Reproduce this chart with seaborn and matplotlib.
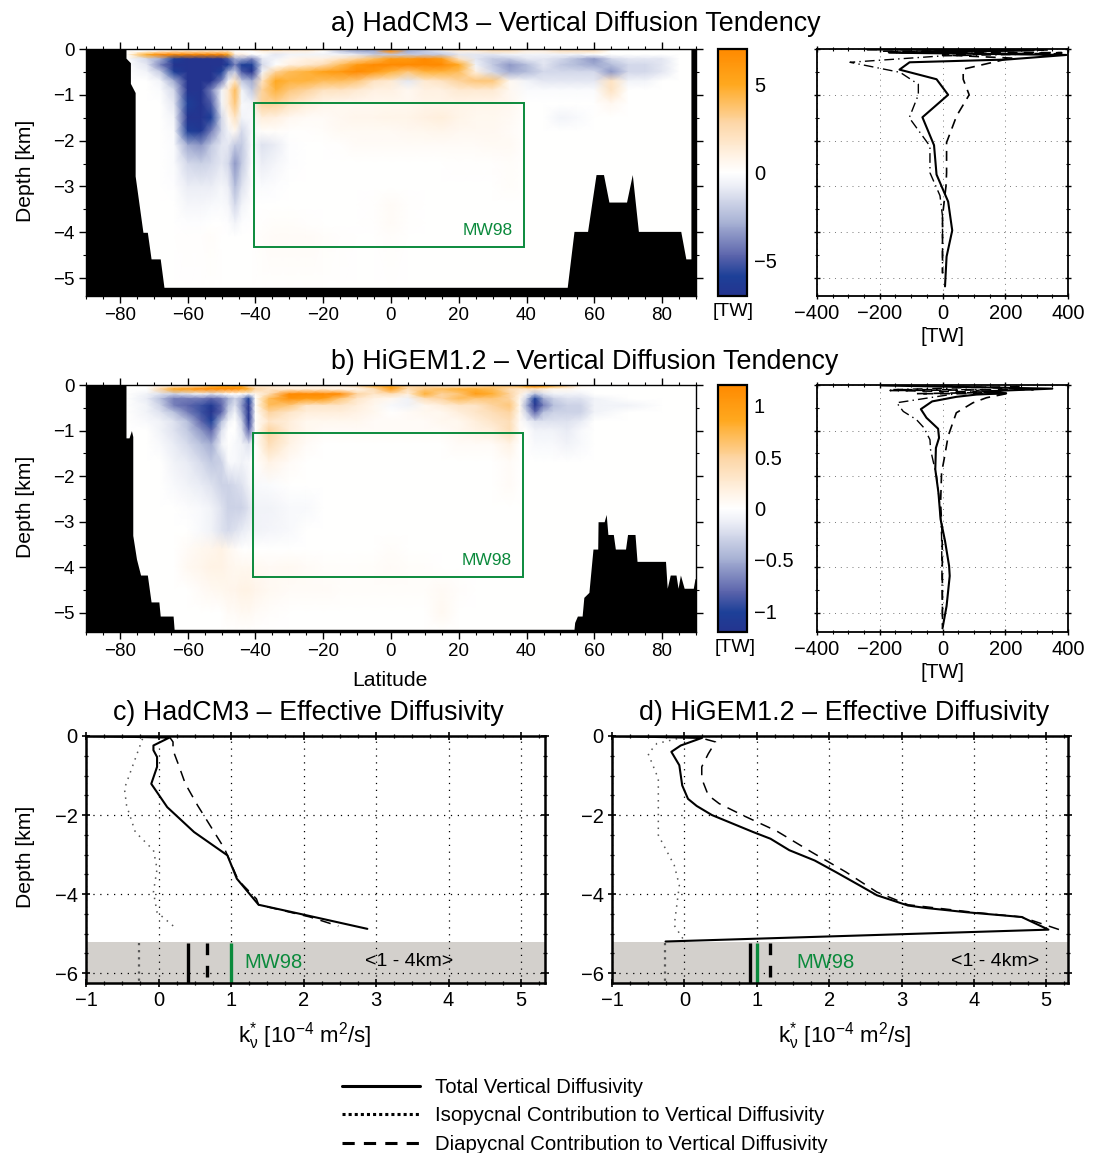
"""Vertical diffusion tendency sections and effective diffusivity profiles"""
import matplotlib
matplotlib.use("Agg")
import matplotlib.pyplot as plt
from matplotlib.colors import LinearSegmentedColormap, Normalize
from matplotlib.lines import Line2D
from matplotlib.patches import Rectangle
from matplotlib.ticker import MultipleLocator
import seaborn as sns
import numpy as np

W, H = 1101, 1153
GREEN = "#0b8a3c"
BAND = "#d3d0cc"

# ---- panel a section, TW
LAT_A = [-78, -72, -68, -64, -60, -56, -53, -50, -48, -46, -44, -41, -38, -34, -30, -25, -20, -15, -10, -5,
         0, 5, 10, 15, 20, 25, 30, 35, 40, 45, 50, 55, 60, 65, 70, 75, 80, 85, 89]
DEPTH_A = [0, .05, .12, .22, .35, .5, .7, .9, 1.2, 1.5, 1.8, 2.1, 2.5, 3.0, 3.4, 3.8, 4.1, 5.4]
FIELD_A = [
    [0, 0, 0, 1, 1, 2, 2, 2, 1, 1, 2, 3, 4, 4, 3, 3, 2, 1, -1, -2, -2, -1, -1, 3, 3, 3, 3, 2, 1, 1, 1, 1, 1, 0, 0, 0, 0, 0, 0],
    [0, 0, 1, 2, 2, 2, 2, 2, 2, 0, 0, 0, 1, 1, 1, 1, 0, -2, -3, -3, 7, -3, -2, -1, 1, 1, 2, 2, 1, 1, 2, 2, 2, 0, 0, 0, 0, 0, 0],
    [0, 5, 7, 7, 7, 7, 7, 7, 5, 1, 1, 0, 0, -1, -.5, -.5, -.5, -.5, -1, -2, -2, -2, -2, -2, -1, -1, -1, -.5, -.5, -.5, -.5, -.5, 0, 0, 0, 0, 0, 0, 0],
    [0, -1.5, -3, -6, -7, -7, -7, -7, -5, -3, -3, -4, -1, -.5, .5, 1, 1, 2, 3, 4, 6, 6, 7, 6, 2, -1, -2, -2, -1, -1, -1.5, -2.5, -3.5, -1.5, -1, -1, -1, 0, 0],
    [0, -1, -4, -7, -7, -7, -7, -7, -6, -4, -6, -6, -1.5, 0, 1, 1.5, 2.5, 4, 6, 7, 7, 7, 7, 7, 5, -.5, -2, -3.5, -2.5, -1, -2, -2.5, -3, -2.5, -1.5, -1.5, -1, 0, 0],
    [0, -.5, -2, -6, -7, -7, -7, -6, -3, -2, -5, -7, -.5, 3, 4, 4.5, 5.5, 6, 7, 6, 4.5, 3.5, 4.5, 4.5, 4, 1, -1.5, -3, -2.5, -1.5, -1.5, -1.5, -1.5, -3.5, -1.5, -1.5, -1, 0, 0],
    [0, 0, -.5, -3, -7, -7, -7, -4, -.5, 2, -2, -3, 2, 5, 4.5, 4.5, 4, 4, 3.5, 2, 1.5, -1, 1.5, 2, 3, 3.5, 3.5, .5, -.5, -1, -1, -1, -1, 2, -.5, -.5, 0, 0, 0],
    [0, 0, -.2, -1.5, -7, -7, -4, -.5, 1.5, 4, -.5, -2, 3, 4.5, 3.5, 3, 2, 2, 1.5, 1, 1, .5, 1, 1, 1.5, 1.5, 1.5, .5, -.2, -.2, -.2, -.2, -.2, 2, 0, 0, 0, 0, 0],
    [0, 0, 0, -1, -6, -7, -5, -.5, 1.5, 3.5, -.3, -.5, 3, 3, 2, 1.2, .7, .5, .5, .5, .6, .6, .8, .8, .8, .7, .7, .5, 0, 0, 0, 0, 0, .5, 0, 0, 0, 0, 0],
    [0, 0, 0, -.5, -7, -7, -6, -1.5, .5, 2, -.5, -.3, 1.2, 1, .5, .3, .3, .5, .7, .7, .8, .8, 1, 1.2, .8, .6, .6, .4, 0, 0, -.5, -.3, 0, 0, 0, 0, 0, 0, 0],
    [0, 0, 0, -.3, -6, -6.5, -4, -1.5, -.5, .5, -1.5, -.3, .2, .2, .1, .1, .2, .4, .4, .4, .4, .5, .6, .7, .5, .5, .5, .3, 0, 0, 0, 0, 0, 0, 0, 0, 0, 0, 0],
    [0, 0, 0, -.2, -3, -3.5, -2, -1, -1, -2, -2, -.2, -1.2, -.8, -.1, 0, 0, .1, .3, .3, .3, .3, .3, .3, .3, .3, .4, .4, 0, 0, 0, 0, 0, 0, 0, 0, 0, 0, 0],
    [0, 0, 0, -.2, -1.5, -1.8, -1.5, -1, -1.5, -3.5, -2, -.1, -.8, -.4, -.1, 0, 0, 0, 0, 0, 0, 0, 0, 0, .1, .1, .1, .2, 0, 0, 0, 0, 0, 0, 0, 0, 0, 0, 0],
    [0, 0, 0, -.1, -.8, -.8, -.8, -.4, -.8, -2.5, -1.2, -.1, -.2, -.1, 0, 0, 0, 0, 0, 0, 0, 0, 0, 0, 0, 0, 0, .2, 0, 0, 0, 0, 0, 0, 0, 0, 0, 0, 0],
    [0, 0, 0, 0, -.4, -.4, -.3, -.2, -.4, -1.5, -.5, 0, 0, 0, 0, 0, 0, 0, 0, .1, .3, .1, 0, 0, 0, 0, 0, 0, 0, 0, 0, 0, 0, 0, 0, 0, 0, 0, 0],
    [0, 0, 0, 0, -.1, -.1, 0, 0, -.1, -.5, -.1, 0, .1, .2, .2, .1, 0, 0, 0, .1, .3, .1, 0, 0, 0, 0, 0, 0, 0, 0, 0, 0, 0, 0, 0, 0, 0, 0, 0],
    [0, 0, 0, 0, .1, .1, .2, 0, 0, 0, 0, 0, .2, .3, .3, .3, .2, .1, 0, 0, .15, .05, 0, 0, 0, 0, 0, 0, 0, 0, 0, 0, 0, 0, 0, 0, 0, 0, 0],
    [0, 0, 0, 0, 0, 0, 0, 0, 0, 0, 0, 0, 0, 0, 0, 0, 0, 0, 0, 0, 0, 0, 0, 0, 0, 0, 0, 0, 0, 0, 0, 0, 0, 0, 0, 0, 0, 0, 0],
]

# ---- panel b section, TW
LAT_B = [-78, -72, -68, -64, -60, -56, -53, -50, -48, -46, -44, -42, -40, -36, -30, -25, -20, -15, -10, -5,
         0, 5, 10, 15, 20, 25, 30, 35, 38, 40, 42.5, 45, 48, 52, 56, 60, 70, 80, 89]
DEPTH_B = [0, .04, .09, .2, .3, .45, .6, .8, 1.0, 1.3, 1.7, 2.2, 2.7, 3.2, 3.6, 4.0, 4.5, 5.0, 5.42]
FIELD_B = [
    [0, 0, 0, 0, 0, .1, .1, .1, .1, .1, 0, 0, -.2, -.3, .1, -.3, -.3, -.3, -.3, .3, .3, .1, -.3, -.3, -.3, .1, .1, .1, .1, .2, .2, .2, .1, .1, -.1, 0, 0, 0, 0],
    [0, 0, .2, .4, .5, .6, .8, .9, .9, .9, .9, .5, .3, .3, .2, .2, .2, .2, .4, .7, .9, .5, .5, .4, .4, .5, .6, .6, .7, .9, 1.1, .9, .7, .5, .1, 0, 0, 0, 0],
    [0, 0, .5, .9, 1, 1.2, 1.2, 1.2, 1.2, 1.2, 1, .8, .5, .3, .2, .2, .2, .1, .1, .4, 1, .4, .6, .7, .8, .8, .7, .4, .3, .3, .3, .2, .1, .1, 0, 0, 0, 0, 0],
    [0, -.1, -.2, -.3, -.2, -.1, -.2, -.1, 0, 0, 0, -.1, .1, .4, 1.2, 1.2, 1.2, 1.2, .5, .3, .4, .2, .8, .5, .6, 1, .8, .5, .2, -.1, -.4, -.2, -.1, -.1, -.1, 0, 0, 0, 0],
    [0, -.15, -.4, -.7, -.7, -.7, -.8, -.7, -.5, -.3, -.5, -1, 0, .7, 1.1, 1, 1, .6, .3, .15, .1, -.1, .4, .5, .7, .6, .6, .5, .1, -.3, -1, -.5, -.3, -.2, -.2, -.1, 0, 0, 0],
    [0, -.1, -.3, -.7, -.8, -.9, -1.1, -.8, -.4, -.2, -.6, -1.2, 0, .7, .6, .3, .3, .3, .2, .1, -.05, -.1, .1, .2, .3, .3, .5, .6, .1, -.5, -1.2, -.7, -.4, -.3, -.3, -.1, -.1, 0, 0],
    [0, -.1, -.2, -.4, -.7, -.9, -1.2, -.8, -.3, -.1, -.5, -1.2, 0, .5, .3, .2, .2, .2, .15, .1, 0, .05, .1, .1, .2, .3, .4, .5, .1, -.3, -.8, -.4, -.3, -.3, -.3, -.1, 0, 0, 0],
    [0, -.05, -.1, -.2, -.4, -.8, -1, -.4, -.1, 0, -.3, -1.2, 0, .3, .2, .1, .1, .1, .1, .05, .05, .05, .05, .1, .1, .2, .3, .4, .05, -.1, -.2, -.2, -.2, -.2, -.15, 0, 0, 0, 0],
    [0, 0, -.1, -.2, -.35, -.6, -.8, -.2, 0, 0, -.2, -.8, 0, .5, .2, .1, .05, .05, .05, .05, .05, .05, .05, .05, .1, .15, .2, .4, .05, 0, -.1, -.1, -.1, -.15, -.05, 0, 0, 0, 0],
    [0, 0, -.05, -.15, -.25, -.4, -.5, -.1, 0, -.05, -.1, -.2, 0, .4, .15, .05, 0, 0, 0, 0, 0, 0, 0, 0, .05, .05, .05, .15, 0, 0, -.05, -.05, -.05, -.1, -.05, 0, 0, 0, 0],
    [0, 0, 0, -.1, -.15, -.25, -.35, -.3, -.05, -.05, -.1, -.05, 0, .15, .05, 0, 0, 0, 0, 0, 0, 0, 0, 0, 0, 0, 0, .05, 0, 0, 0, 0, 0, 0, 0, 0, 0, 0, 0],
    [0, 0, 0, -.05, -.1, -.15, -.2, -.3, -.3, -.25, -.2, -.1, -.05, -.03, 0, 0, 0, 0, 0, 0, 0, 0, 0, 0, 0, 0, 0, .05, 0, 0, 0, 0, 0, 0, 0, 0, 0, 0, 0],
    [0, 0, 0, 0, -.02, -.05, -.1, -.2, -.3, -.3, -.3, -.2, -.1, -.1, -.05, -.05, 0, 0, 0, 0, 0, 0, 0, 0, 0, 0, 0, 0, 0, 0, 0, 0, 0, 0, 0, 0, 0, 0, 0],
    [0, 0, 0, 0, 0, -.05, -.1, -.2, -.25, -.2, -.15, -.1, -.1, -.08, -.05, 0, 0, 0, 0, 0, 0, 0, 0, 0, 0, 0, 0, 0, 0, 0, 0, 0, 0, 0, 0, 0, 0, 0, 0],
    [0, 0, 0, 0, .05, .1, .12, .15, .1, .05, 0, 0, 0, 0, 0, 0, 0, 0, 0, 0, .03, 0, 0, 0, 0, 0, 0, 0, 0, 0, 0, 0, 0, 0, 0, 0, 0, 0, 0],
    [0, 0, 0, 0, .08, .12, .15, .15, .12, .1, .1, .1, .08, .06, .08, .05, .03, .02, .02, .03, .05, .03, .02, 0, 0, 0, 0, 0, 0, 0, 0, 0, 0, 0, 0, 0, 0, 0, 0],
    [0, 0, 0, 0, 0, .05, .08, .1, .12, .13, .15, .15, .13, .08, .05, .05, .05, .03, .03, .03, .03, .03, .03, .06, .02, 0, 0, 0, 0, 0, 0, 0, 0, 0, 0, 0, 0, 0, 0],
    [0, 0, 0, 0, 0, 0, 0, 0, .05, .05, .08, .08, .05, .02, 0, 0, 0, 0, 0, 0, 0, 0, 0, .08, 0, 0, 0, 0, 0, 0, 0, 0, 0, 0, 0, 0, 0, 0, 0],
    [0, 0, 0, 0, 0, 0, 0, 0, 0, 0, 0, 0, 0, 0, 0, 0, 0, 0, 0, 0, 0, 0, 0, 0, 0, 0, 0, 0, 0, 0, 0, 0, 0, 0, 0, 0, 0, 0, 0],
]

# ---- bathymetry
BATHY_LAT_A = [-90, -78.2, -78.2, -76.9, -76.9, -75.5, -75.5, -73.2, -71.9, -70.8, -68.1, -67, 52, 54, 58, 60.5, 62.7,
               64.3, 69.5, 71.2, 73, 85.5, 87, 88.5, 88.5, 90]
BATHY_TOP_A = [0, 0, .2, .3, .75, .95, 2.77, 4, 4, 4.58, 4.58, 5.2, 5.2, 3.98, 3.98, 2.74, 2.74,
               3.34, 3.34, 2.74, 3.98, 3.98, 4.58, 4.58, 0, 0]
BATHY_LAT_B = [-90, -78.2, -78.2, -77.3, -76.6, -76.2, -76.2, -75.1, -73.9, -71.9, -70.8, -68.5, -68.1, -64.3, -64, 54,
               54.2, 55, 56.4, 56.9, 58.4, 59.6, 61, 61.1, 62.9, 63.5, 64, 65.6, 66.2, 69.2, 69.8, 72, 72.6, 81, 81.5,
               82.4, 84.1, 84.7, 85.4, 86.5, 89.2, 89.7, 90]
BATHY_TOP_B = [0, 0, 1.16, 1.16, 1.0, 1.13, 3.3, 3.82, 4.17, 4.17, 4.76, 4.76, 5.07, 5.07, 5.36, 5.36,
               5.21, 5.07, 5.07, 4.66, 4.55, 3.6, 3.6, 3, 3, 2.84, 3.28, 3.28, 3.6, 3.6, 3.28, 3.28, 3.87, 3.87, 4.46,
               4.17, 4.17, 4.46, 4.17, 4.46, 4.46, 4.25, 4.25]

# ---- tendency profiles, TW against depth in km
TOTAL_A_X = [-240, 290, -170, 395, 205, -105, -137, -19, 18, -64, -27, -19, 18, 31, 13, 8]
TOTAL_A_Z = [.01, .03, .08, .13, .23, .29, .45, .66, 1.0, 1.49, 2.1, 2.74, 3.33, 3.96, 4.53, 5.18]
DIA_A_X = [-240, 340, -180, 380, 0, 225, 205, 66, 66, 85, 45, 13, 13, 11, 0, 0]
DIA_A_Z = [.01, .02, .07, .08, .13, .2, .22, .44, .66, 1.0, 1.46, 2.04, 2.7, 3.0, 3.65, 4.89]
ISO_A_X = [-190, 320, -150, 380, 0, -295, -135, -77, -77, -106, -40, -40, -8, 0, 0]
ISO_A_Z = [.05, .02, .08, .1, .15, .29, .51, .77, 1, 1.5, 2.12, 2.7, 3.2, 3.65, 4.9]

TOTAL_B_X = [-194, 350, 129, 203, 108, 44, -33, -69, -51, -14, -11, -21, -23, -13, -6, 8, 21, 23, 13, 0]
TOTAL_B_Z = [.01, .08, .14, .18, .21, .26, .36, .53, .72, .96, 1.16, 1.38, 1.85, 2.36, 2.95, 3.42, 3.97, 4.19, 4.85, 5.34]
DIA_B_X = [0, 290, -167, 182, -82, 204, 140, 97, 44, 18, 7, -3, -6, -1, 0]
DIA_B_Z = [.01, .1, .12, .16, .19, .19, .28, .39, .61, 1.12, 1.56, 1.93, 2.58, 3.3, 5.3]
ISO_B_X = [246, -157, 129, -146, -125, -83, -59, -40, -38, -19, -8, -3, 0]
ISO_B_Z = [.03, .1, .1, .39, .58, .76, .94, 1.2, 1.42, 2, 2.66, 3.31, 5.28]

# ---- effective diffusivity, 1e-4 m2/s against depth in km
TOTAL_C_X = [-1, .15, -.07, -.07, -.02, -.02, -.1, .12, .49, .95, 1.08, 1.38, 2, 2.88]
TOTAL_C_Z = [0, .04, .24, .36, .53, .78, 1.21, 1.8, 2.43, 3.02, 3.61, 4.27, 4.52, 4.88]
DIA_C_X = [.15, .2, .2, .27, .37, .54, .71, .91, .96, 1.1, 1.35, 1.38, 2.09, 2.48]
DIA_C_Z = [.02, .15, .36, .7, 1.21, 1.76, 2.26, 2.85, 3.06, 3.65, 4.12, 4.27, 4.58, 4.81]
ISO_C_X = [-.22, -.27, -.47, -.44, -.32, -.07, -.02, -.07, -.02, .25]
ISO_C_Z = [.07, .32, 1.33, 1.76, 2.43, 2.89, 3.36, 3.95, 4.46, 4.88]

TOTAL_D_X = [-1, .24, -.05, -.18, -.07, -.03, .05, .17, .38, .95, 1.19, 1.45, 1.8, 2.09, 2.42, 2.66, 3.09, 3.33, 3.9, 4.66, 5.03, -.26]
TOTAL_D_Z = [0, .05, .24, .4, .74, 1.25, 1.59, 1.77, 2, 2.43, 2.6, 2.89, 3.15, 3.44, 3.78, 4.03, 4.29, 4.35, 4.46, 4.58, 4.9, 5.2]
DIA_D_X = [.29, .43, .33, .24, .24, .33, .48, .81, 1.28, 1.76, 2.23, 2.66, 3.09, 3.99, 4.66, 5.18]
DIA_D_Z = [.08, .15, .45, .78, 1.08, 1.5, 1.71, 2.01, 2.41, 2.94, 3.44, 3.95, 4.27, 4.46, 4.58, 4.9]
ISO_D_X = [-.1, -.38, -.5, -.36, -.36, -.14, -.07, -.14, -.02]
ISO_D_Z = [.07, .19, .45, 1.08, 2.51, 3.27, 3.78, 4.79, 5.13]

# <1 - 4km> means: total, isopycnal, diapycnal, MW98
MEANS_C = [.4, -.27, .67, 1.0]
MEANS_D = [.9, -.27, 1.18, 1.0]

DIVE_CMAP = LinearSegmentedColormap.from_list("dive", [
    (0, "#24348f"), (.08, "#1d4098"), (.16, "#5a63ab"), (.3, "#a9b3d5"), (.45, "#eef0f7"), (.5, "#ffffff"),
    (.55, "#fff6ec"), (.7, "#fdd7a8"), (.86, "#ffa81e"), (1, "#ff8a00")])

sns.set_theme(style="ticks")
plt.rcParams["font.family"] = ["Liberation Sans", "DejaVu Sans"]
plt.rcParams["mathtext.fontset"] = "custom"
plt.rcParams["mathtext.rm"] = "Liberation Sans"
plt.rcParams["mathtext.it"] = "Liberation Sans"
plt.rcParams["mathtext.default"] = "regular"
plt.rcParams["axes.axisbelow"] = "line"
plt.rcParams["text.color"] = "black"
plt.rcParams["xtick.color"] = "black"
plt.rcParams["ytick.color"] = "black"

SECTION_FS = 13.5
PROFILE_FS = 14.5


def box(fig, x0, y0, x1, y1):
    return fig.add_axes([x0 / W, 1 - y1 / H, (x1 - x0) / W, (y1 - y0) / H])


def px_text(fig, x, y, s, **kw):
    kw.setdefault("ha", "center")
    kw.setdefault("va", "center")
    kw.setdefault("fontsize", 15.2)
    fig.text(x / W, 1 - y / H, s, color=kw.pop("color", "black"), **kw)


def style_spines(ax, lw):
    for sp in ax.spines.values():
        sp.set_linewidth(lw)
        sp.set_color("black")
        sp.set_visible(True)


def draw_section(fig, y0, y1, lats, depths, field, vmax, bt_lat, bt_top, bottom, mw_box, mw_xy, cticks, clabels):
    ax = box(fig, 86, y0, 696, y1)
    norm = Normalize(-vmax, vmax)
    mesh = ax.pcolormesh(lats, -np.array(depths), np.array(field), shading="gouraud", cmap=DIVE_CMAP, norm=norm)
    ax.fill_between(bt_lat, -np.array(bt_top), -bottom, color="black", lw=0, zorder=3)
    ax.add_patch(Rectangle((mw_box[0], -mw_box[3]), mw_box[1] - mw_box[0], mw_box[3] - mw_box[2],
                           fill=False, ec=GREEN, lw=1.4, zorder=4))
    ax.text(mw_xy[0], -mw_xy[1], "MW98", color=GREEN, fontsize=12.5, ha="center", va="center", zorder=4)
    ax.set_xlim(-90, 90)
    ax.set_ylim(-bottom, 0)
    ax.xaxis.set_major_locator(MultipleLocator(20))
    ax.xaxis.set_minor_locator(MultipleLocator(5))
    ax.yaxis.set_major_locator(MultipleLocator(1))
    ax.yaxis.set_minor_locator(MultipleLocator(.5))
    ax.tick_params(which="major", top=True, right=True, direction="out", length=5, width=1, labelsize=SECTION_FS, pad=3)
    ax.tick_params(which="minor", top=True, right=True, direction="out", length=2.5, width=.8)
    ax.set_xlim(-90, 90)
    style_spines(ax, 1)

    cax = box(fig, 718, y0, 747, y1)
    cb = fig.colorbar(mesh, cax=cax, ticks=cticks)
    cb.ax.set_yticklabels(clabels)
    cb.ax.tick_params(length=0, labelsize=14.5, pad=5, colors="black")
    cb.outline.set_linewidth(1.6)
    cb.outline.set_edgecolor("black")
    return ax


def draw_profile(fig, y0, y1, bottom, total, dia, iso):
    ax = box(fig, 817, y0, 1068, y1)
    sns.lineplot(x=np.array(iso[0]), y=-np.array(iso[1]), ax=ax, sort=False, estimator=None,
                 color="black", lw=1, linestyle=(0, (7, 3, 1, 3)))
    sns.lineplot(x=np.array(dia[0]), y=-np.array(dia[1]), ax=ax, sort=False, estimator=None,
                 color="black", lw=1.2, linestyle=(0, (6, 4)))
    sns.lineplot(x=np.array(total[0]), y=-np.array(total[1]), ax=ax, sort=False, estimator=None,
                 color="black", lw=1.5)
    ax.set_xlim(-400, 400)
    ax.set_ylim(-bottom, 0)
    ax.xaxis.set_major_locator(MultipleLocator(200))
    ax.xaxis.set_minor_locator(MultipleLocator(50))
    ax.yaxis.set_major_locator(MultipleLocator(1))
    ax.yaxis.set_minor_locator(MultipleLocator(.5))
    ax.grid(True, which="major", color="#777777", lw=.7, linestyle=(0, (1, 5)))
    ax.tick_params(which="major", top=True, right=True, direction="inout", length=5, width=1,
                   labelsize=PROFILE_FS, labelleft=False, pad=3)
    ax.tick_params(which="minor", top=True, right=True, direction="inout", length=3, width=.8)
    style_spines(ax, 1.3)
    return ax


def draw_diffusivity(fig, x0, x1, xmax, total, dia, iso, means, mw_x, span_x):
    ax = box(fig, x0, 736, x1, 983)
    ax.axhspan(-6.25, -5.2, color=BAND, lw=0, zorder=1)
    sns.lineplot(x=np.array(iso[0]), y=-np.array(iso[1]), ax=ax, sort=False, estimator=None,
                 color="#555555", lw=1.1, linestyle=(0, (1, 3.5)))
    sns.lineplot(x=np.array(dia[0]), y=-np.array(dia[1]), ax=ax, sort=False, estimator=None,
                 color="black", lw=1.1, linestyle=(0, (7, 5)))
    sns.lineplot(x=np.array(total[0]), y=-np.array(total[1]), ax=ax, sort=False, estimator=None,
                 color="black", lw=1.5)

    # band markers for the mean values
    styles = [("black", 2.4, "-"), ("#555555", 1.6, (0, (1, 2.2))), ("black", 2.4, (0, (3.5, 3.2))), (GREEN, 2.4, "-")]
    for v, (col, lw, ls) in zip(means, styles):
        sns.lineplot(x=[v, v], y=[-5.25, -6.25], ax=ax, estimator=None, sort=False, color=col, lw=lw, linestyle=ls,
                     solid_capstyle="butt", dash_capstyle="butt")
    ax.text(mw_x, -5.72, "MW98", color=GREEN, fontsize=14.5, ha="center", va="center")
    ax.text(span_x, -5.7, "<1 - 4km>", color="black", fontsize=14, ha="center", va="center")

    ax.set_xlim(-1, xmax)
    ax.set_ylim(-6.25, 0)
    ax.set_xticks(range(-1, 6))
    ax.set_yticks([0, -2, -4, -6])
    ax.xaxis.set_minor_locator(MultipleLocator(.25))
    ax.yaxis.set_minor_locator(MultipleLocator(.5))
    ax.grid(True, which="major", color="black", lw=.9, linestyle=(0, (1, 4.5)))
    ax.tick_params(which="major", top=True, right=True, direction="inout", length=6, width=1.2, labelsize=PROFILE_FS, pad=3)
    ax.tick_params(which="minor", top=True, right=True, direction="inout", length=3, width=.9)
    style_spines(ax, 1.8)
    return ax


fig = plt.figure(figsize=(W / 100, H / 100), dpi=100)

draw_section(fig, 49, 296, LAT_A, DEPTH_A, FIELD_A, 7, BATHY_LAT_A, BATHY_TOP_A, 5.39,
             (-40.4, 39.2, 1.18, 4.32), (28.6, 3.97), [-5, 0, 5], ["\u22125", "0", "5"])
draw_profile(fig, 49, 296, 5.39, (TOTAL_A_X, TOTAL_A_Z), (DIA_A_X, DIA_A_Z), (ISO_A_X, ISO_A_Z))

draw_section(fig, 385, 632, LAT_B, DEPTH_B, FIELD_B, 1.2, BATHY_LAT_B, BATHY_TOP_B, 5.42,
             (-40.7, 38.9, 1.05, 4.21), (28.3, 3.86), [-1, -.5, 0, .5, 1], ["\u22121", "\u22120.5", "0", "0.5", "1"])
draw_profile(fig, 385, 632, 5.42, (TOTAL_B_X, TOTAL_B_Z), (DIA_B_X, DIA_B_Z), (ISO_B_X, ISO_B_Z))

draw_diffusivity(fig, 86, 545, 5.33, (TOTAL_C_X, TOTAL_C_Z), (DIA_C_X, DIA_C_Z), (ISO_C_X, ISO_C_Z), MEANS_C, 1.58, 3.45)
draw_diffusivity(fig, 612, 1068, 5.3, (TOTAL_D_X, TOTAL_D_Z), (DIA_D_X, DIA_D_Z), (ISO_D_X, ISO_D_Z), MEANS_D, 1.95, 4.3)

TITLE_FS = 19.4
px_text(fig, 576, 24, "a) HadCM3 \u2013 Vertical Diffusion Tendency", fontsize=TITLE_FS)
px_text(fig, 585, 362, "b) HiGEM1.2 \u2013 Vertical Diffusion Tendency", fontsize=TITLE_FS)
px_text(fig, 308, 713, "c) HadCM3 \u2013 Effective Diffusivity", fontsize=TITLE_FS)
px_text(fig, 844, 713, "d) HiGEM1.2 \u2013 Effective Diffusivity", fontsize=TITLE_FS)

px_text(fig, 26, 171, "Depth [km]", rotation=90)
px_text(fig, 26, 507, "Depth [km]", rotation=90)
px_text(fig, 26, 857, "Depth [km]", rotation=90)
px_text(fig, 390, 681, "Latitude")
px_text(fig, 733, 311, "[TW]", fontsize=14)
px_text(fig, 735, 647, "[TW]", fontsize=14)
px_text(fig, 942, 337, "[TW]", fontsize=15)
px_text(fig, 942, 672, "[TW]", fontsize=15)
KV_LABEL = r"$k_{\nu}^{*}$ [10$^{-4}$ m$^{2}$/s]"
px_text(fig, 305, 1036, KV_LABEL, fontsize=16)
px_text(fig, 845, 1036, KV_LABEL, fontsize=16)

handles = [Line2D([], [], color="black", lw=2.2),
           Line2D([], [], color="black", lw=2.2, linestyle=(0, (1, 1))),
           Line2D([], [], color="black", lw=2.2, linestyle=(0, (4, 3)))]
labels = ["Total Vertical Diffusivity", "Isopycnal Contribution to Vertical Diffusivity",
          "Diapycnal Contribution to Vertical Diffusivity"]
fig.legend(handles, labels, loc="upper left", bbox_to_anchor=(342 / W, 1 - 1078 / H), frameon=False,
           fontsize=14.7, handlelength=3.82, handletextpad=.72, labelspacing=.46, borderpad=0, borderaxespad=0)

plt.savefig("out.png", dpi=100)
